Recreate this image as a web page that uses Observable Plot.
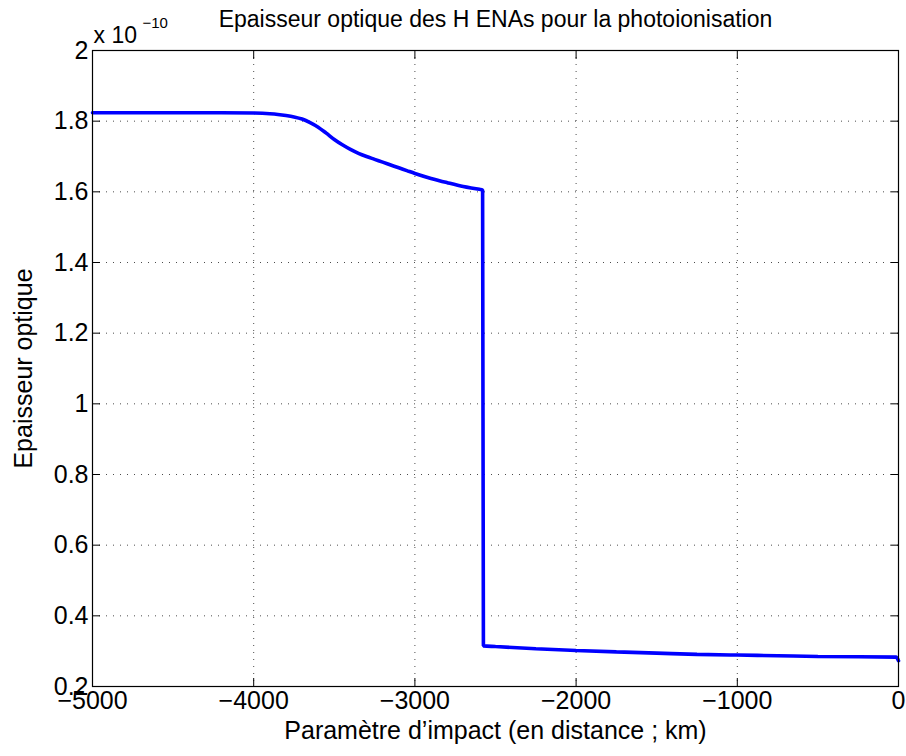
<!DOCTYPE html>
<html>
<head>
<meta charset="utf-8">
<script src="https://cdn.jsdelivr.net/npm/d3@7"></script>
<script src="https://cdn.jsdelivr.net/npm/@observablehq/plot@0.6"></script>
<style>
  html, body { margin: 0; padding: 0; background: #fff; }
  #chart svg { display: block; }
</style>
</head>
<body>
<div id="chart"></div>
<script>
// Impact parameter (km)
const impact = [-5000, -4500, -4200, -4000, -3900, -3850, -3800, -3750, -3700, -3650, -3600, -3550, -3500, -3450, -3400, -3350, -3300, -3250, -3200, -3150, -3100, -3050, -3000, -2900, -2800, -2700, -2600, -2580, -2575, -2500, -2250, -2000, -1750, -1500, -1250, -1000, -750, -500, -250, -15, 0];
// Optical depth (x 1e-10)
const depth = [1.824, 1.824, 1.824, 1.823, 1.821, 1.819, 1.816, 1.812, 1.806, 1.796, 1.783, 1.766, 1.748, 1.733, 1.720, 1.709, 1.700, 1.692, 1.684, 1.676, 1.668, 1.660, 1.652, 1.638, 1.626, 1.615, 1.607, 1.605, 0.315, 0.313, 0.307, 0.302, 0.298, 0.2945, 0.291, 0.289, 0.287, 0.285, 0.284, 0.283, 0.273];

const xTicks = [-5000, -4000, -3000, -2000, -1000, 0];
const yTicks = [0.2, 0.4, 0.6, 0.8, 1.0, 1.2, 1.4, 1.6, 1.8, 2.0];
const xGrid = [-4000, -3000, -2000, -1000];
const yGrid = [0.4, 0.6, 0.8, 1.0, 1.2, 1.4, 1.6, 1.8];

const titleText = "Epaisseur optique des H ENAs pour la photoionisation";
const xLabel = "Paramètre d’impact (en distance ; km)";
const yLabel = "Epaisseur optique";
const scaleBase = "x 10";
const scaleExp = "\u221210";

const data = impact.map((x, i) => ({x, y: depth[i]}));
const fmtX = d => d < 0 ? "\u2212" + Math.abs(d) : String(d);
const fmtY = d => String(+d.toFixed(1));
const FONT = "'Liberation Sans', Arial, Helvetica, sans-serif";

const gridStyle = {stroke: "#000", strokeOpacity: 0.7, strokeDasharray: "1,6", strokeWidth: 1};

const chart = Plot.plot({
  width: 906,
  height: 756,
  marginTop: 50,
  marginLeft: 92,
  marginRight: 8,
  marginBottom: 70,
  style: {fontFamily: FONT, background: "#fff", color: "#000", overflow: "visible"},
  x: {domain: [-5000, 0], label: null},
  y: {domain: [0.2, 2.0], label: null},
  marks: [
    Plot.gridX(xGrid, gridStyle),
    Plot.gridY(yGrid, gridStyle),
    Plot.line(data, {x: "x", y: "y", stroke: "#0000ff", strokeWidth: 3.6, strokeLinejoin: "miter", curve: "monotone-x"}),
    Plot.frame({stroke: "#000", strokeWidth: 1.2}),
    // inward tick marks on all four sides
    Plot.axisX(xTicks, {anchor: "bottom", tickSize: -8, tickFormat: () => "", label: null, strokeWidth: 1}),
    Plot.axisX(xTicks, {anchor: "top", tickSize: -8, tickFormat: () => "", label: null, strokeWidth: 1}),
    Plot.axisY(yTicks, {anchor: "left", tickSize: -8, tickFormat: () => "", label: null, strokeWidth: 1}),
    Plot.axisY(yTicks, {anchor: "right", tickSize: -8, tickFormat: () => "", label: null, strokeWidth: 1}),
    // tick labels
    Plot.axisX(xTicks, {anchor: "bottom", tickSize: 0, tickPadding: 5, tickFormat: fmtX, label: null, fontSize: 25}),
    Plot.axisY(yTicks, {anchor: "left", tickSize: 0, tickPadding: 4, tickFormat: fmtY, label: null, fontSize: 25}),
    // titles
    Plot.text([titleText], {frameAnchor: "top", lineAnchor: "bottom", dy: -24, fontSize: 23, fill: "#000"}),
    Plot.text([xLabel], {frameAnchor: "bottom", lineAnchor: "bottom", dy: 52, fontSize: 25, fill: "#000"}),
    Plot.text([yLabel], {frameAnchor: "left", rotate: -90, textAnchor: "middle", dx: -69, lineAnchor: "middle", fontSize: 25, fill: "#000"}),
    Plot.text([scaleBase], {frameAnchor: "top-left", textAnchor: "start", lineAnchor: "bottom", dx: 1, dy: -8, fontSize: 23, fill: "#000"}),
    Plot.text([scaleExp], {frameAnchor: "top-left", textAnchor: "start", lineAnchor: "bottom", dx: 50, dy: -23, fontSize: 15, fill: "#000"})
  ]
});

document.getElementById("chart").appendChild(chart);
</script>
</body>
</html>
